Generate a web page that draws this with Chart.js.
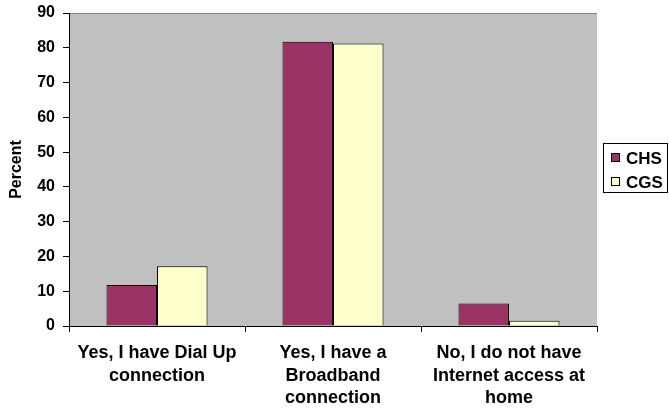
<!DOCTYPE html>
<html>
<head>
<meta charset="utf-8">
<script src="https://cdn.jsdelivr.net/npm/chart.js@4/dist/chart.umd.min.js"></script>
<style>
  body { margin: 0; background: #fff; }
  canvas { display: block; }
</style>
</head>
<body>
<canvas id="access-chart" width="669" height="412"></canvas>
<script>
const categories = [
    ['Yes, I have Dial Up', 'connection'],
    ['Yes, I have a', 'Broadband', 'connection'],
    ['No, I do not have', 'Internet access at', 'home']
];
const seriesNames = ['CHS', 'CGS'];
const chsValues = [11.8, 81.7, 6.5];
const cgsValues = [17.2, 81.2, 1.5];
const yTicks = [0, 10, 20, 30, 40, 50, 60, 70, 80, 90];

const FONT = 'Arial, "Liberation Sans", sans-serif';

// grey plot area with a thin line along the top
const plotBackground = {
    id: 'plotBackground',
    beforeDraw(chart) {
        const { ctx, chartArea: a } = chart;
        ctx.save();
        ctx.fillStyle = '#c0c0c0';
        ctx.fillRect(a.left, a.top, a.right - a.left, a.bottom - a.top);
        ctx.strokeStyle = '#808080';
        ctx.lineWidth = 1;
        ctx.beginPath();
        ctx.moveTo(a.left, a.top + 0.5);
        ctx.lineTo(a.right, a.top + 0.5);
        ctx.stroke();
        ctx.restore();
    }
};

// boxed legend to the right of the plot
const boxLegend = {
    id: 'boxLegend',
    afterDraw(chart) {
        const { ctx } = chart;
        const x = 603, y = 143, w = 65, h = 50;
        ctx.save();
        ctx.fillStyle = '#fff';
        ctx.fillRect(x, y, w, h);
        ctx.strokeStyle = '#000';
        ctx.lineWidth = 1;
        ctx.strokeRect(x + 0.5, y + 0.5, w - 1, h - 1);
        ctx.font = 'bold 17px ' + FONT;
        ctx.textBaseline = 'middle';
        chart.data.datasets.forEach((ds, i) => {
            const cy = y + 15 + i * 24;
            ctx.fillStyle = ds.backgroundColor;
            ctx.fillRect(611.5, cy - 4.5, 8, 8);
            ctx.strokeStyle = '#000';
            ctx.strokeRect(611.5, cy - 4.5, 8, 8);
            ctx.fillStyle = '#000';
            ctx.fillText(ds.label, 626, cy + 1);
        });
        ctx.restore();
    }
};

new Chart(document.getElementById('access-chart'), {
    type: 'bar',
    data: {
        labels: categories,
        datasets: [{
            label: seriesNames[0],
            data: chsValues,
            backgroundColor: '#993366',
            borderColor: '#000',
            borderWidth: 1
        }, {
            label: seriesNames[1],
            data: cgsValues,
            backgroundColor: '#ffffcc',
            borderColor: '#000',
            borderWidth: 1
        }]
    },
    options: {
        responsive: false,
        devicePixelRatio: 1,
        animation: false,
        layout: { padding: { top: 13, right: 72, left: 0, bottom: 0 } },
        datasets: {
            bar: { categoryPercentage: 0.574, barPercentage: 1 }
        },
        plugins: {
            legend: { display: false },
            tooltip: { enabled: false }
        },
        scales: {
            x: {
                grid: {
                    drawOnChartArea: false,
                    color: '#000',
                    tickLength: 6,
                    offset: true
                },
                border: { color: '#000' },
                ticks: {
                    color: '#000',
                    maxRotation: 0,
                    autoSkip: false,
                    padding: 10,
                    font: { family: FONT, size: 18, weight: 'bold', lineHeight: 1.25 }
                },
                afterFit(scale) {
                    scale.height = 86;
                    scale.paddingLeft = 0;
                    scale.paddingRight = 0;
                }
            },
            y: {
                min: 0,
                max: 90,
                afterBuildTicks(scale) { scale.ticks = yTicks.map(v => ({ value: v })); },
                grid: {
                    drawOnChartArea: false,
                    color: '#000',
                    tickLength: 6
                },
                border: { color: '#000' },
                ticks: {
                    color: '#000',
                    padding: 8,
                    font: { family: FONT, size: 16, weight: 'bold' }
                },
                title: {
                    display: true,
                    text: 'Percent',
                    color: '#000',
                    padding: { top: 7, bottom: 0 },
                    font: { family: FONT, size: 16, weight: 'bold' }
                },
                afterFit(scale) {
                    scale.width = 69;
                    scale.paddingTop = 0;
                    scale.paddingBottom = 0;
                }
            }
        }
    },
    plugins: [plotBackground, boxLegend]
});
</script>
</body>
</html>
